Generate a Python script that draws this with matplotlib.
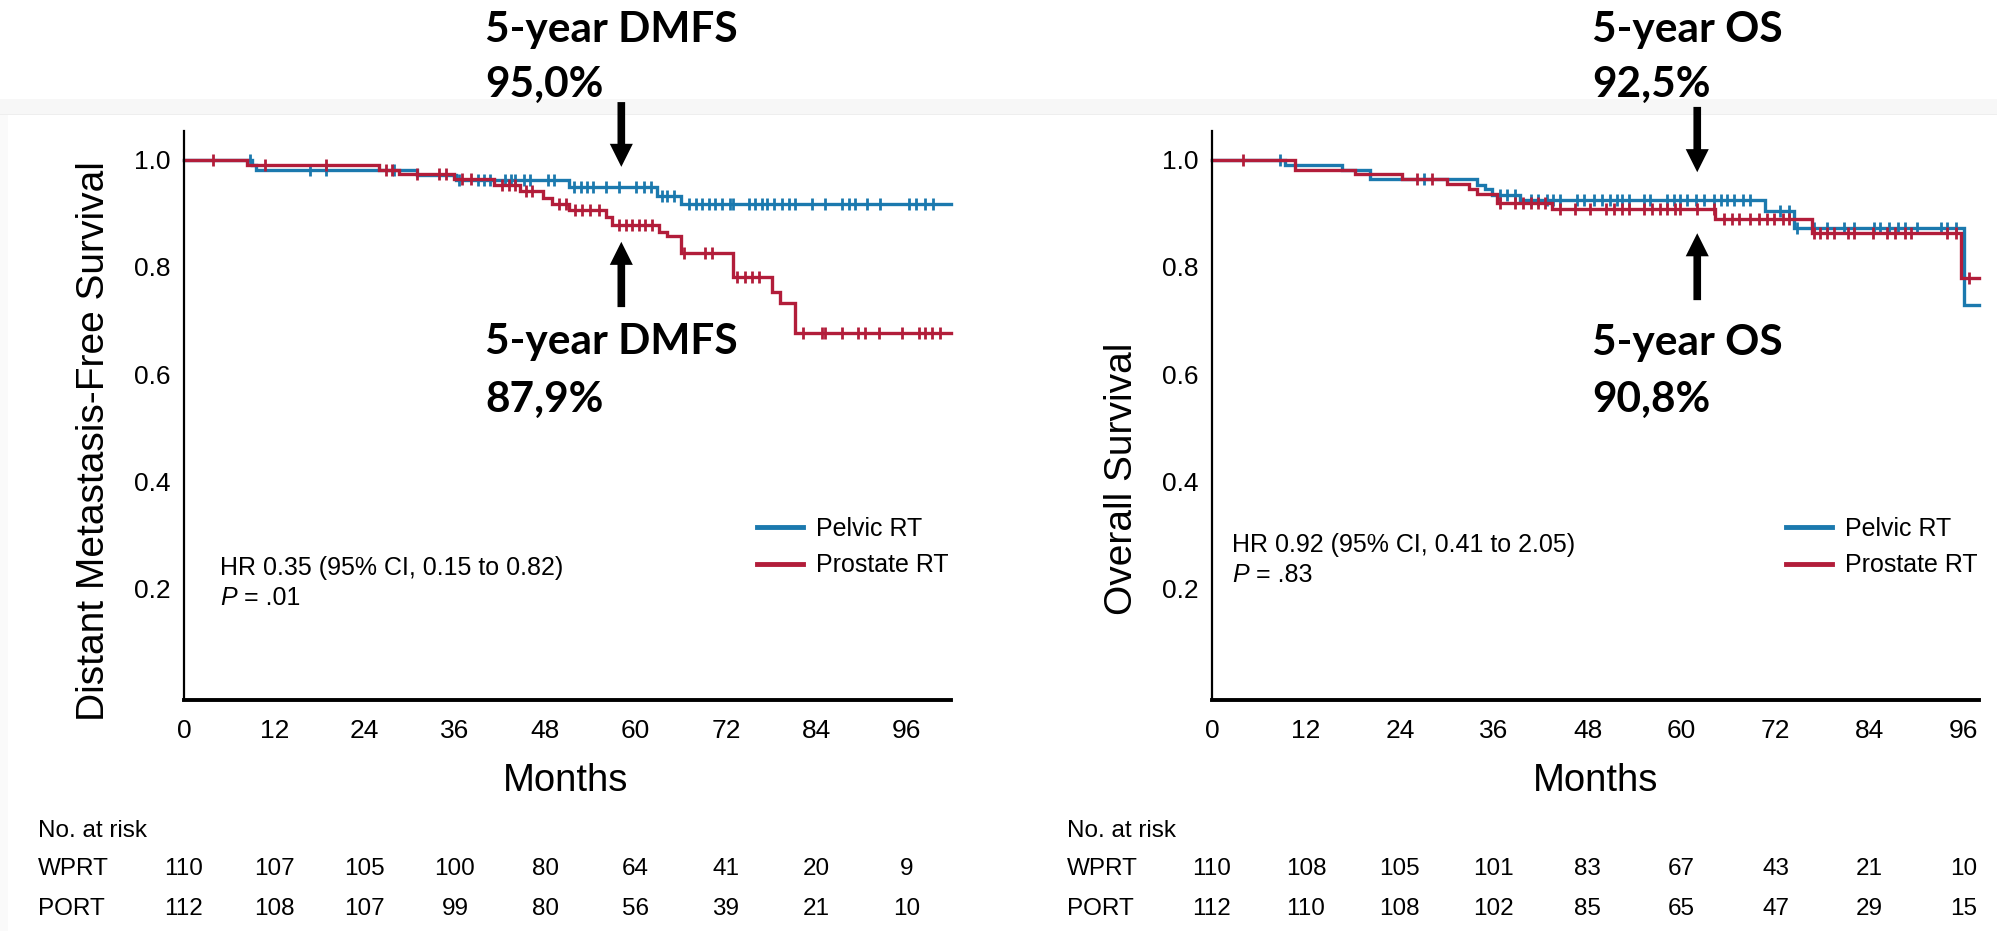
import matplotlib
matplotlib.use('Agg')
import numpy as np
import matplotlib.pyplot as plt
from matplotlib import font_manager
from matplotlib.lines import Line2D
from matplotlib.patches import Rectangle
from matplotlib.transforms import blended_transform_factory

# Kaplan-Meier steps: event times (months) and survival after each step
dmfs_pelvic_t = [0, 9.0, 9.6, 31.0, 36.1, 51.2, 62.9, 66.0]
dmfs_pelvic_s = [1.0, 0.991, 0.981, 0.972, 0.963, 0.950, 0.932, 0.917]
dmfs_pelvic_cens = [8.8, 16.8, 18.8, 27.9, 36.6, 39.0, 39.8, 40.7, 42.7, 43.4, 44.0, 45.2,
                    46.0, 48.3, 49.1, 51.8, 52.7, 53.6, 54.4, 56.0, 57.8, 60.0, 61.1, 62.0,
                    63.5, 64.2, 65.1, 67.1, 68.0, 68.8, 69.7, 70.6, 71.5, 72.6, 73.0, 75.0,
                    75.9, 76.8, 77.5, 78.4, 79.5, 80.4, 81.2, 83.4, 85.2, 87.4, 88.3, 89.2,
                    90.7, 92.5, 96.3, 97.2, 98.5, 99.5]

dmfs_prostate_t = [0, 8.4, 25.9, 28.5, 35.9, 41.2, 44.7, 47.7, 48.9, 51.2, 56.0, 56.9,
                   63.1, 64.2, 66.0, 73.0, 78.1, 79.2, 81.2]
dmfs_prostate_s = [1.0, 0.991, 0.982, 0.973, 0.964, 0.954, 0.941, 0.928, 0.918, 0.907,
                   0.893, 0.879, 0.866, 0.857, 0.826, 0.782, 0.754, 0.732, 0.676]
dmfs_prostate_cens = [3.8, 10.8, 18.8, 26.8, 27.7, 30.9, 33.9, 34.8, 37.0, 38.1, 42.3, 43.2,
                      44.0, 45.4, 46.2, 49.8, 50.7, 52.0, 52.9, 54.0, 55.1, 57.8, 58.7, 59.5,
                      60.4, 61.3, 62.2, 66.4, 69.2, 70.2, 73.5, 74.5, 75.5, 76.4, 82.3, 84.8,
                      85.2, 87.4, 89.6, 90.5, 92.3, 95.4, 97.6, 98.5, 99.4, 100.5]

os_pelvic_t = [0, 9.3, 16.6, 20.2, 33.8, 34.9, 35.8, 39.4, 70.7, 74.3, 96.1]
os_pelvic_s = [1.0, 0.991, 0.982, 0.964, 0.954, 0.945, 0.935, 0.925, 0.904, 0.872, 0.729]
os_pelvic_cens = [8.7, 27.1, 36.8, 37.7, 38.7, 40.7, 41.7, 42.8, 43.6, 44.5, 46.6, 47.5,
                  48.8, 49.8, 50.9, 51.8, 52.4, 53.3, 55.2, 56.0, 58.1, 59.0, 59.8, 60.7,
                  61.8, 62.8, 64.1, 65.0, 65.8, 66.7, 67.9, 68.8, 72.6, 73.7, 74.8, 76.9,
                  78.6, 80.7, 82.0, 84.6, 85.4, 86.5, 87.6, 88.6, 90.1, 93.1, 93.9, 95.0]

os_prostate_t = [0, 10.6, 18.3, 24.3, 30.0, 32.8, 33.8, 36.4, 43.4, 64.3, 76.7, 95.7]
os_prostate_s = [1.0, 0.982, 0.973, 0.964, 0.955, 0.946, 0.937, 0.919, 0.908, 0.890,
                 0.864, 0.779]
os_prostate_cens = [3.9, 26.2, 28.1, 36.8, 38.7, 39.8, 40.7, 41.7, 42.6, 44.5, 46.4, 48.3,
                    50.3, 51.3, 52.4, 53.3, 55.2, 56.2, 57.3, 58.1, 59.2, 59.8, 62.0, 64.1,
                    65.4, 66.5, 67.3, 68.8, 69.9, 70.9, 71.8, 72.9, 73.7, 76.9, 77.7, 78.6,
                    79.5, 81.2, 82.0, 84.4, 86.3, 87.3, 88.6, 89.3, 93.9, 95.0, 96.7]

# numbers at risk
risk_months = [0, 12, 24, 36, 48, 60, 72, 84, 96]
dmfs_wprt = [110, 107, 105, 100, 80, 64, 41, 20, 9]
dmfs_port = [112, 108, 107, 99, 80, 56, 39, 21, 10]
os_wprt = [110, 108, 105, 101, 83, 67, 43, 21, 10]
os_port = [112, 110, 108, 102, 85, 65, 47, 29, 15]

blue = '#1b79ae'
red = '#b21d3a'

W, H = 1997, 931
fig = plt.figure(figsize=(W / 100, H / 100), dpi=100)
plt.rcParams['font.family'] = ['Liberation Sans', 'DejaVu Sans']


def fx(px):
    return px / W


def fy(py):
    return 1 - py / H


installed = {f.name for f in font_manager.fontManager.ttflist}
if 'Liberation Sans Narrow' in installed:
    ylab_font = dict(family=['Liberation Sans Narrow', 'Liberation Sans'], size=34)
else:
    ylab_font = dict(family=['Liberation Sans', 'DejaVu Sans'], size=28)

# light page edge behind the plots
fig.add_artist(Rectangle((0, fy(114)), 1, 15 / H, transform=fig.transFigure,
                         facecolor='#f7f7f7', edgecolor='none', zorder=-5))
fig.add_artist(Rectangle((0, fy(115)), 1, 1.5 / H, transform=fig.transFigure,
                         facecolor='#eeeeee', edgecolor='none', zorder=-5))
fig.add_artist(Rectangle((0, 0), 8 / W, fy(115), transform=fig.transFigure,
                         facecolor='#fafafa', edgecolor='none', zorder=-5))

axL = fig.add_axes([fx(184), fy(700), fx(951) - fx(184), 569 / H])
axR = fig.add_axes([fx(1212), fy(700), fx(1979) - fx(1212), 569 / H])


def km(ax, t, s, cens, color, tmax):
    t = np.asarray(t)
    s = np.asarray(s)
    ax.step(np.append(t, tmax), np.append(s, s[-1]), where='post',
            color=color, lw=2.4, solid_joinstyle='miter', clip_on=False)
    idx = np.searchsorted(t, cens, side='right') - 1
    ax.plot(cens, s[idx], ls='none', marker='|', ms=8.5, mew=2.0, color=color,
            clip_on=False)


for ax, xmax in ((axL, 101.9), (axR, 98.0)):
    ax.set_facecolor('none')
    ax.set_xlim(0, xmax)
    ax.set_ylim(-0.009, 1.054)
    ax.spines[['top', 'right']].set_visible(False)
    ax.spines['left'].set_linewidth(1.6)
    ax.spines['bottom'].set_linewidth(2.8)
    ax.set_xticks(risk_months)
    ax.set_yticks([0.2, 0.4, 0.6, 0.8, 1.0])
    ax.set_yticklabels(['0.2', '0.4', '0.6', '0.8', '1.0'])
    ax.tick_params(axis='x', length=0, labelsize=19, pad=14)
    ax.tick_params(axis='y', length=0, labelsize=19, pad=9.5)

km(axL, dmfs_pelvic_t, dmfs_pelvic_s, dmfs_pelvic_cens, blue, 101.9)
km(axL, dmfs_prostate_t, dmfs_prostate_s, dmfs_prostate_cens, red, 101.9)
km(axR, os_pelvic_t, os_pelvic_s, os_pelvic_cens, blue, 98.0)
km(axR, os_prostate_t, os_prostate_s, os_prostate_cens, red, 98.0)

# axis titles
fig.text(fx(94), fy(441), 'Distant Metastasis-Free Survival', rotation=90,
         ha='center', va='center', **ylab_font)
fig.text(fx(1122), fy(479), 'Overall Survival', rotation=90,
         ha='center', va='center', **ylab_font)
fig.text(fx(566), fy(791), 'Months', ha='center', va='baseline', size=27.5)
fig.text(fx(1596), fy(791), 'Months', ha='center', va='baseline', size=27.5)

# legends
for ax, x0 in ((axL, 757), (axR, 1786)):
    handles = [Line2D([], [], color=blue, lw=3.5), Line2D([], [], color=red, lw=3.5)]
    ax.legend(handles, ['Pelvic RT', 'Prostate RT'], loc='center left',
              bbox_to_anchor=(fx(x0), fy(547)), bbox_transform=fig.transFigure,
              frameon=False, fontsize=18, handlelength=1.85, handletextpad=0.5,
              labelspacing=0.5, borderpad=0, borderaxespad=0)

# hazard ratio and P value
for ax, x0, y0, hr, p in ((axL, 220, 568, 'HR 0.35 (95% CI, 0.15 to 0.82)', ' = .01'),
                          (axR, 1232, 545, 'HR 0.92 (95% CI, 0.41 to 2.05)', ' = .83')):
    fig.text(fx(x0), fy(y0), hr, ha='left', va='center', size=18)
    pt = fig.text(fx(x0), fy(y0 + 30), 'P', ha='left', va='center', size=18,
                  style='italic')
    ax.annotate(p, xy=(1, 0.5), xycoords=pt, ha='left', va='center', size=18,
                annotation_clip=False)

# risk tables
for ax, x0, wprt, port in ((axL, 38, dmfs_wprt, dmfs_port),
                           (axR, 1067, os_wprt, os_port)):
    fig.text(fx(x0), fy(837), 'No. at risk', ha='left', va='baseline', size=17.5)
    fig.text(fx(x0), fy(875), 'WPRT', ha='left', va='baseline', size=17.5)
    fig.text(fx(x0), fy(915), 'PORT', ha='left', va='baseline', size=17.5)
    trans = blended_transform_factory(ax.transData, fig.transFigure)
    for m, a, b in zip(risk_months, wprt, port):
        ax.text(m, fy(875), str(a), transform=trans, ha='center', va='baseline',
                size=17.5, clip_on=False)
        ax.text(m, fy(915), str(b), transform=trans, ha='center', va='baseline',
                size=17.5, clip_on=False)

# 5-year callouts
bold = dict(family=['Lato', 'DejaVu Sans'], weight='bold', size=30.5, ha='left',
            va='baseline')
fig.text(fx(485), fy(42), '5-year DMFS', **bold)
fig.text(fx(485), fy(97), '95,0%', **bold)
fig.text(fx(485), fy(354), '5-year DMFS', **bold)
fig.text(fx(485), fy(412), '87,9%', **bold)
fig.text(fx(1592), fy(42), '5-year OS', **bold)
fig.text(fx(1592), fy(97), '92,5%', **bold)
fig.text(fx(1592), fy(355), '5-year OS', **bold)
fig.text(fx(1592), fy(412), '90,8%', **bold)

arrow = dict(arrowstyle='simple,head_length=1.66,head_width=1.66,tail_width=0.55',
             mutation_scale=10, color='black', lw=0, shrinkA=0, shrinkB=0)
for ax, x, tip, tail in ((axL, 58.1, 0.987, 1.108), (axL, 58.1, 0.847, 0.725),
                         (axR, 62.0, 0.977, 1.099), (axR, 62.0, 0.863, 0.738)):
    ax.annotate('', xy=(x, tip), xytext=(x, tail), arrowprops=arrow,
                annotation_clip=False)

fig.savefig('out.png', dpi=100, facecolor='white')
